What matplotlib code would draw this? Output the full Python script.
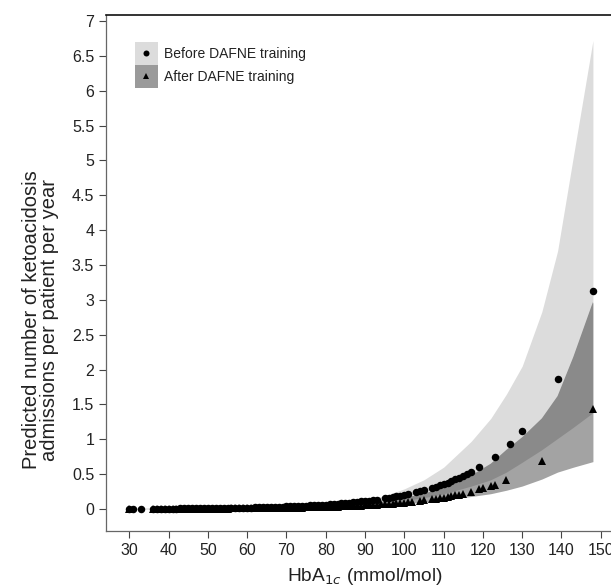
import matplotlib
matplotlib.use('Agg')
import matplotlib.pyplot as plt
import numpy as np
from matplotlib.patches import Rectangle
from matplotlib.lines import Line2D
from matplotlib.legend_handler import HandlerBase
from matplotlib.ticker import FormatStrFormatter

plt.rcParams['font.family'] = ['Liberation Sans', 'DejaVu Sans']

# predicted admissions, before DAFNE training
before_x = [30, 31, 33,
            36, 37, 38, 39, 40, 41, 42, 43, 44, 45, 46, 47, 48, 49,
            50, 51, 52, 53, 54, 55, 56, 57, 58, 59, 60, 61, 62, 63, 64,
            65, 66, 67, 68, 69, 70, 71, 72, 73, 74, 75, 76, 77, 78, 79,
            80, 81, 82, 83, 84, 85, 86, 87, 88, 89, 90, 91, 92, 93,
            95, 96, 97, 98, 99, 100, 101, 103, 104, 105,
            107, 108, 109, 110, 111, 112, 113, 114, 115, 116, 117,
            119, 123, 127, 130, 139, 148]
before_y = [0.004, 0.004, 0.004,
            0.005, 0.006, 0.006, 0.006, 0.007, 0.007, 0.007, 0.008, 0.008,
            0.009, 0.009, 0.010, 0.010, 0.011,
            0.012, 0.012, 0.013, 0.014, 0.015, 0.016, 0.017, 0.018, 0.019, 0.020,
            0.021, 0.022, 0.024, 0.025, 0.026,
            0.028, 0.029, 0.031, 0.033, 0.035, 0.037, 0.039, 0.041, 0.044, 0.046,
            0.049, 0.052, 0.055, 0.058, 0.062,
            0.065, 0.069, 0.073, 0.077, 0.082, 0.087, 0.092, 0.097, 0.103, 0.109,
            0.115, 0.122, 0.129, 0.136,
            0.153, 0.162, 0.171, 0.181, 0.192, 0.203, 0.215, 0.241, 0.255, 0.270,
            0.302, 0.320, 0.339, 0.359, 0.380, 0.402, 0.426, 0.451, 0.477, 0.505, 0.535,
            0.60, 0.75, 0.94, 1.12, 1.86, 3.13]

# predicted admissions, after DAFNE training
after_x = [30,
           36, 37, 38, 39, 40, 41, 42, 43, 44, 45, 46, 47, 48, 49,
           50, 51, 52, 53, 54, 55, 56, 57, 58, 59, 60, 61, 62, 63, 64,
           65, 66, 67, 68, 69, 70, 71, 72, 73, 74, 75, 76, 77, 78, 79,
           80, 81, 82, 83, 84, 85, 86, 87, 88, 89, 90, 91, 92, 93, 94,
           95, 96, 97, 98, 99, 100, 101, 102, 104, 105,
           107, 108, 109, 110, 111, 112, 113, 114, 115,
           117, 119, 120, 122, 123, 126, 135, 148]
after_y = [0.002,
           0.002, 0.003, 0.003, 0.003, 0.003, 0.003, 0.003, 0.004, 0.004,
           0.004, 0.004, 0.004, 0.005, 0.005,
           0.005, 0.006, 0.006, 0.006, 0.007, 0.007, 0.008, 0.008, 0.009, 0.009,
           0.010, 0.010, 0.011, 0.011, 0.012,
           0.013, 0.013, 0.014, 0.015, 0.016, 0.017, 0.018, 0.019, 0.020, 0.021,
           0.023, 0.024, 0.025, 0.027, 0.028,
           0.030, 0.032, 0.034, 0.035, 0.038, 0.040, 0.042, 0.045, 0.047, 0.050,
           0.053, 0.056, 0.059, 0.063, 0.066,
           0.070, 0.075, 0.079, 0.083, 0.088, 0.093, 0.099, 0.104, 0.117, 0.124,
           0.139, 0.147, 0.156, 0.165, 0.175, 0.185, 0.196, 0.207, 0.219,
           0.25, 0.29, 0.30, 0.33, 0.34, 0.42, 0.69, 1.43]

# confidence bands
band_x = [30, 50, 70, 80, 90, 95, 100, 105, 110, 117, 122, 126, 130, 135, 139, 143, 148]
before_hi = [0.01, 0.025, 0.06, 0.09, 0.13, 0.19, 0.29, 0.42, 0.60, 0.97, 1.30, 1.65,
             2.05, 2.83, 3.70, 5.05, 6.72]
before_lo = [0.002, 0.006, 0.02, 0.035, 0.065, 0.085, 0.115, 0.155, 0.21, 0.32, 0.41, 0.52,
             0.66, 0.84, 1.00, 1.16, 1.37]
after_hi = [0.003, 0.008, 0.02, 0.04, 0.08, 0.11, 0.16, 0.22, 0.31, 0.48, 0.65, 0.85,
            1.03, 1.30, 1.62, 2.18, 2.97]
after_lo = [0.001, 0.004, 0.012, 0.022, 0.04, 0.055, 0.075, 0.10, 0.13, 0.18, 0.22, 0.27,
            0.33, 0.43, 0.53, 0.60, 0.68]

LIGHT = '#dcdcdc'
MID = '#a3a3a3'
DARK = '#8a8a8a'
TXT = '#222222'
MS_CIRC, MS_TRI = 5.4, 6.2


class MarkerOnPatch(HandlerBase):
    # handle is (face colour, marker, marker size): square patch with a centred marker
    def create_artists(self, legend, orig_handle, xdescent, ydescent,
                       width, height, fontsize, trans):
        fc, mk, ms = orig_handle
        r = Rectangle((-xdescent, -ydescent), width, height, facecolor=fc,
                      edgecolor='none', transform=trans)
        m = Line2D([width / 2 - xdescent], [height / 2 - ydescent], ls='none',
                   marker=mk, ms=ms * 0.8, color='black', mew=0, transform=trans)
        return [r, m]


fig = plt.figure(figsize=(6.11, 5.86), dpi=100)
ax = fig.add_axes([106 / 611, 55 / 586, 505 / 611, 516 / 586])

bx = np.array(band_x)
ov_lo = np.maximum(before_lo, after_lo)
ov_hi = np.minimum(before_hi, after_hi)
ax.fill_between(bx, before_lo, before_hi, color=LIGHT, lw=0)
ax.fill_between(bx, after_lo, after_hi, color=MID, lw=0)
ax.fill_between(bx, ov_lo, ov_hi, where=ov_hi > ov_lo, color=DARK, lw=0)

ax.plot(after_x, after_y, ls='none', marker='^', ms=MS_TRI, color='black', mew=0)
ax.plot(before_x, before_y, ls='none', marker='o', ms=MS_CIRC, color='black', mew=0)

ax.set_xlim(24.07, 152.6)
ax.set_ylim(-0.315, 7.086)
ax.set_xticks(np.arange(30, 151, 10))
ax.set_yticks(np.arange(0, 7.01, 0.5))
ax.yaxis.set_major_formatter(FormatStrFormatter('%g'))
ax.tick_params(direction='out', length=5, width=0.8, color='#444444',
               labelsize=11.5, labelcolor=TXT)
ax.spines['right'].set_visible(False)
for s in ['left', 'bottom']:
    ax.spines[s].set_color('#666666')
    ax.spines[s].set_linewidth(0.9)
ax.spines['top'].set_color('#111111')
ax.spines['top'].set_linewidth(1.2)

ax.set_ylabel('Predicted number of ketoacidosis\nadmissions per patient per year',
              fontsize=14.5, color=TXT, linespacing=0.95)
ax.yaxis.set_label_coords(-0.093, 0.409)
ax.set_xlabel('HbA$_{1c}$ (mmol/mol)', fontsize=13.8, color=TXT)
ax.xaxis.set_label_coords(0.513, -0.068)

fig.legend([(LIGHT, 'o', MS_CIRC), ('#9a9a9a', '^', MS_TRI)],
           ['Before DAFNE training', 'After DAFNE training'],
           handler_map={tuple: MarkerOnPatch()},
           loc='upper left', bbox_to_anchor=(135 / 611, 1 - 42 / 586),
           frameon=False, fontsize=10, handlelength=1.65, handleheight=2.17,
           labelspacing=0, borderpad=0, borderaxespad=0, handletextpad=0.45,
           labelcolor=TXT)

fig.savefig('out.png', dpi=100)
